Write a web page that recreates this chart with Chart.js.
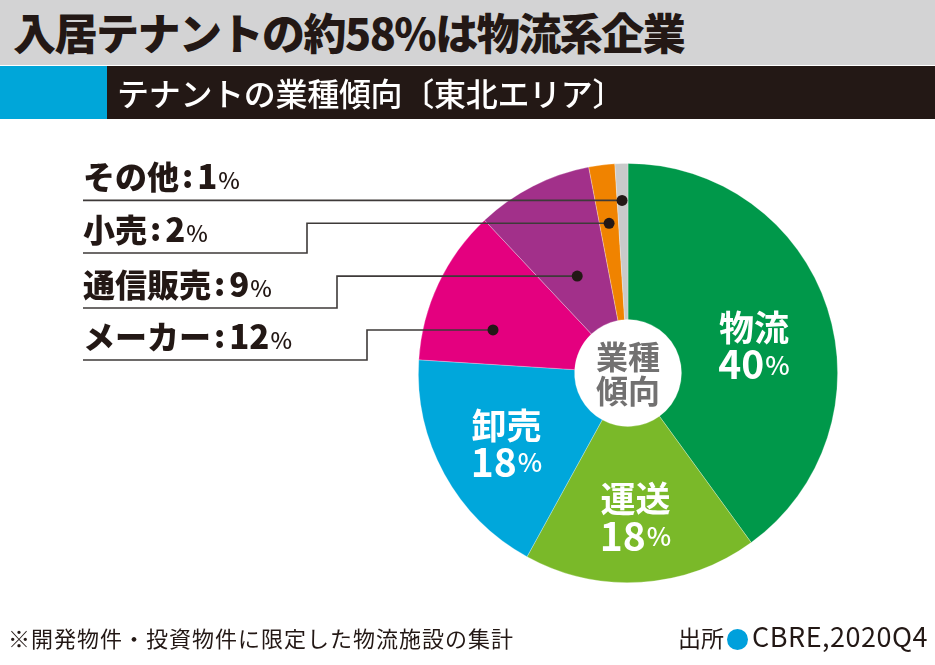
<!DOCTYPE html>
<html lang="ja">
<head>
<meta charset="utf-8">
<title>テナントの業種傾向（東北エリア）</title>
<script src="https://cdn.jsdelivr.net/npm/chart.js@4.4.1/dist/chart.umd.min.js"></script>
<style>
  html, body { margin: 0; padding: 0; background: #fff; }
  body { width: 935px; height: 665px; position: relative; overflow: hidden;
         font-family: "Noto Sans CJK JP", sans-serif; color: #231815; }
  #chart { position: absolute; left: 0; top: 0; }
  .title { position: absolute; left: 0; top: 0; width: 935px; height: 65px; background: #d3d3d4; }
  .title span { position: absolute; left: 13px; top: 3px; font-size: 43px; font-weight: 900;
                line-height: 56px; letter-spacing: -1.5px; }
  .sub { position: absolute; left: 0; top: 66px; width: 935px; height: 53px; background: #231815; }
  .sub .blue { position: absolute; left: 0; top: 0; width: 107px; height: 53px; background: #00a6d9; }
  .sub span { position: absolute; left: 117px; top: 4px; font-size: 32px; font-weight: 500;
              color: #fff; line-height: 44px; letter-spacing: -0.3px; }
  .note { position: absolute; left: 8px; top: 622px; font-size: 22px; line-height: 30px; letter-spacing: 1px; }
  .src { position: absolute; right: 7px; top: 620px; font-size: 23px; line-height: 32px; }
  .src b { font-weight: 400; font-size: 27px; letter-spacing: 0.5px; }
  .src i { display: inline-block; width: 21px; height: 21px; border-radius: 50%; background: #00a0dc;
           vertical-align: -3px; margin: 0 4px 0 3px; }
</style>
</head>
<body>
<canvas id="chart" width="935" height="665"></canvas>
<div class="title"><span>入居テナントの約58%は物流系企業</span></div>
<div class="sub"><div class="blue"></div><span>テナントの業種傾向〔東北エリア〕</span></div>
<div class="note">※開発物件・投資物件に限定した物流施設の集計</div>
<div class="src">出所<i></i><b>CBRE,2020Q4</b></div>

<script>
// データ
const categories = ["物流", "運送", "卸売", "メーカー", "通信販売", "小売", "その他"];
const shares = [40, 18, 18, 12, 9, 2, 1];
const centerLines = ["業種", "傾向"];

// 色
const sliceColors = ["#00984a", "#7ab929", "#00a7db", "#e4007f", "#a2308a", "#f08300", "#c9caca"];
const ink = "#231815";

// 扇形の中に書くラベル (index, 扇形内の角度位置, 半径比)
const insideLabels = [
  { i: 0, at: 0.54, r: 0.615 },
  { i: 1, at: 0.51, r: 0.687 },
  { i: 2, at: 0.48, r: 0.67 }
];
// 引き出し線つきのラベル（上から順に）
const outsideLabels = [
  { i: 6, lineY: null, elbowX: null, at: 0.45, r: 0.824 },
  { i: 5, lineY: 253, elbowX: 307, at: 0.5, r: 0.72 },
  { i: 4, lineY: 308, elbowX: 337, at: 0.48, r: 0.522 },
  { i: 3, lineY: 360, elbowX: 367, at: 0.326, r: 0.676 }
];

const JP = '"Noto Sans CJK JP", sans-serif';

function pointOnArc(arc, at, r) {
  const a = arc.startAngle + (arc.endAngle - arc.startAngle) * at;
  return { x: arc.x + Math.cos(a) * arc.outerRadius * r, y: arc.y + Math.sin(a) * arc.outerRadius * r };
}

// 数字 + 小さい%
function drawPercent(ctx, value, x, y, bigFont, smallFont, align) {
  ctx.font = bigFont;
  const w1 = ctx.measureText(String(value)).width;
  ctx.font = smallFont;
  const w2 = ctx.measureText("%").width;
  let left = align === "center" ? x - (w1 + w2 + 1) / 2 : x;
  ctx.textAlign = "left";
  ctx.font = bigFont;
  ctx.fillText(String(value), left, y);
  ctx.font = smallFont;
  ctx.fillText("%", left + w1 + 1, y);
  return left + w1 + 1 + w2;
}

const labelPlugin = {
  id: "labels",
  afterDatasetsDraw(chart) {
    const ctx = chart.ctx;
    const arcs = chart.getDatasetMeta(0).data;
    ctx.save();

    // 中央
    const c = arcs[0];
    ctx.fillStyle = "#727171";
    ctx.font = "700 32px " + JP;
    ctx.textAlign = "center";
    ctx.textBaseline = "middle";
    ctx.fillText(centerLines[0], c.x, c.y - 16);
    ctx.fillText(centerLines[1], c.x, c.y + 18);

    // 扇形内ラベル
    ctx.fillStyle = "#fff";
    insideLabels.forEach(l => {
      const p = pointOnArc(arcs[l.i], l.at, l.r);
      ctx.textAlign = "center";
      ctx.textBaseline = "middle";
      ctx.font = "700 35px " + JP;
      ctx.fillText(categories[l.i], p.x, p.y - 18);
      drawPercent(ctx, shares[l.i], p.x, p.y + 19, "600 39px " + JP, "500 26px " + JP, "center");
    });

    // 引き出し線
    outsideLabels.forEach(l => {
      const d = pointOnArc(arcs[l.i], l.at, l.r);
      const y = l.lineY === null ? d.y : l.lineY;
      ctx.strokeStyle = "#3e3a39";
      ctx.lineWidth = 1.6;
      ctx.beginPath();
      ctx.moveTo(83, y);
      if (l.elbowX !== null) {
        ctx.lineTo(l.elbowX, y);
        ctx.lineTo(l.elbowX, d.y);
      }
      ctx.lineTo(d.x, d.y);
      ctx.stroke();
      ctx.fillStyle = ink;
      ctx.beginPath();
      ctx.arc(d.x, d.y, 5.5, 0, Math.PI * 2);
      ctx.fill();

      // テキスト
      ctx.textAlign = "left";
      ctx.textBaseline = "alphabetic";
      ctx.font = "900 32px " + JP;
      const base = y - 11;
      ctx.fillText(categories[l.i], 83, base);
      let x = 83 + ctx.measureText(categories[l.i]).width + 3;
      ctx.fillText(":", x, base - 1);
      x += ctx.measureText(":").width + 4;
      drawPercent(ctx, shares[l.i], x, base, "900 33px " + JP, "500 23px " + JP, "left");
    });

    ctx.restore();
  }
};

new Chart(document.getElementById("chart"), {
  type: "doughnut",
  data: {
    labels: categories,
    datasets: [{
      data: shares,
      backgroundColor: sliceColors,
      borderColor: "rgba(255,255,255,0.35)",
      borderWidth: 0.8
    }]
  },
  options: {
    responsive: false,
    animation: false,
    cutout: "25.5%",
    layout: { padding: { left: 418, right: 97, top: 163, bottom: 82 } },
    plugins: {
      legend: { display: false },
      tooltip: { enabled: false }
    }
  },
  plugins: [labelPlugin]
});
</script>
</body>
</html>
